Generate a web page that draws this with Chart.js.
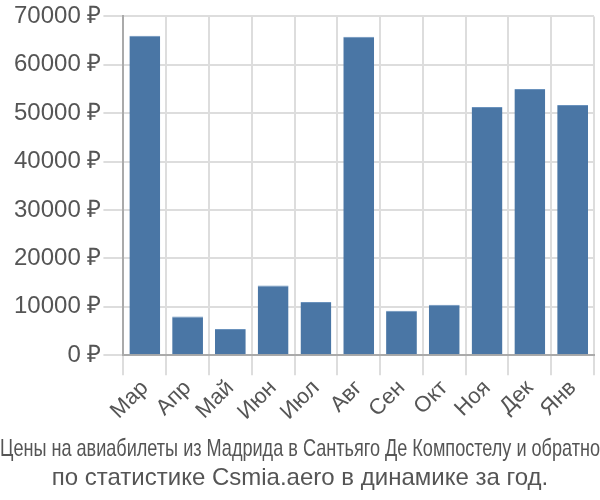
<!DOCTYPE html>
<html><head><meta charset="utf-8">
<script src="https://cdn.jsdelivr.net/npm/chart.js@4"></script>
<style>html,body{margin:0;padding:0;background:#fff}#w{width:600px;height:500px}</style>
</head><body><div id="w"><canvas id="c"></canvas></div>
<script>
const categories = ['Мар','Апр','Май','Июн','Июл','Авг','Сен','Окт','Ноя','Дек','Янв'];
const prices = [66000, 8000, 5400, 14400, 11000, 65800, 9200, 10400, 51300, 55000, 51700];
const titleLines = ['Цены на авиабилеты из Мадрида в Сантьяго Де Компостелу и обратно', 'по статистике Csmia.aero в динамике за год.'];
const currency = ' ₽';
const FONT = 'Liberation Sans, Arial, sans-serif';

new Chart(document.getElementById('c'), {
  type: 'bar',
  data: { labels: categories, datasets: [{ data: prices, backgroundColor: '#4a76a5', borderColor: '#6a92bd', borderWidth: {top:1,left:0,right:0,bottom:0}, barPercentage: 0.72, categoryPercentage: 1 }] },
  options: {
    responsive: true, maintainAspectRatio: false, animation: false,
    layout: { padding: { left: 0, right: 0, top: 3, bottom: 0 } },
    plugins: {
      legend: { display: false },
      tooltip: { enabled: false },
      title: { display: true, position: 'bottom', text: titleLines, color: '#555', font: { family: FONT, size: 24, weight: 'normal' }, padding: { top: 10, bottom: 7 }, lineHeight: 1.125 }
    },
    scales: {
      x: {
        grid: { color: '#dddddd', lineWidth: 2, tickLength: 20, offset: true },
        border: { color: '#aaaaaa', width: 2 },
        ticks: { color: '#555', font: { family: FONT, size: 22 }, maxRotation: 45, minRotation: 45, padding: 0 }
      },
      y: {
        min: 0, max: 70000,
        afterFit: s => { s.width += 12; },
        grid: { color: '#dddddd', lineWidth: 2, tickLength: 20 },
        border: { color: '#aaaaaa', width: 2 },
        ticks: { stepSize: 10000, color: '#555', font: { family: FONT, size: 24 }, padding: 2, callback: v => v + currency }
      },
      yRight: {
        position: 'right', display: true,
        afterFit: s => { s.width = 6; },
        grid: { display: false, drawTicks: false },
        border: { display: false },
        ticks: { display: false }
      }
    }
  }
});
</script></body></html>
